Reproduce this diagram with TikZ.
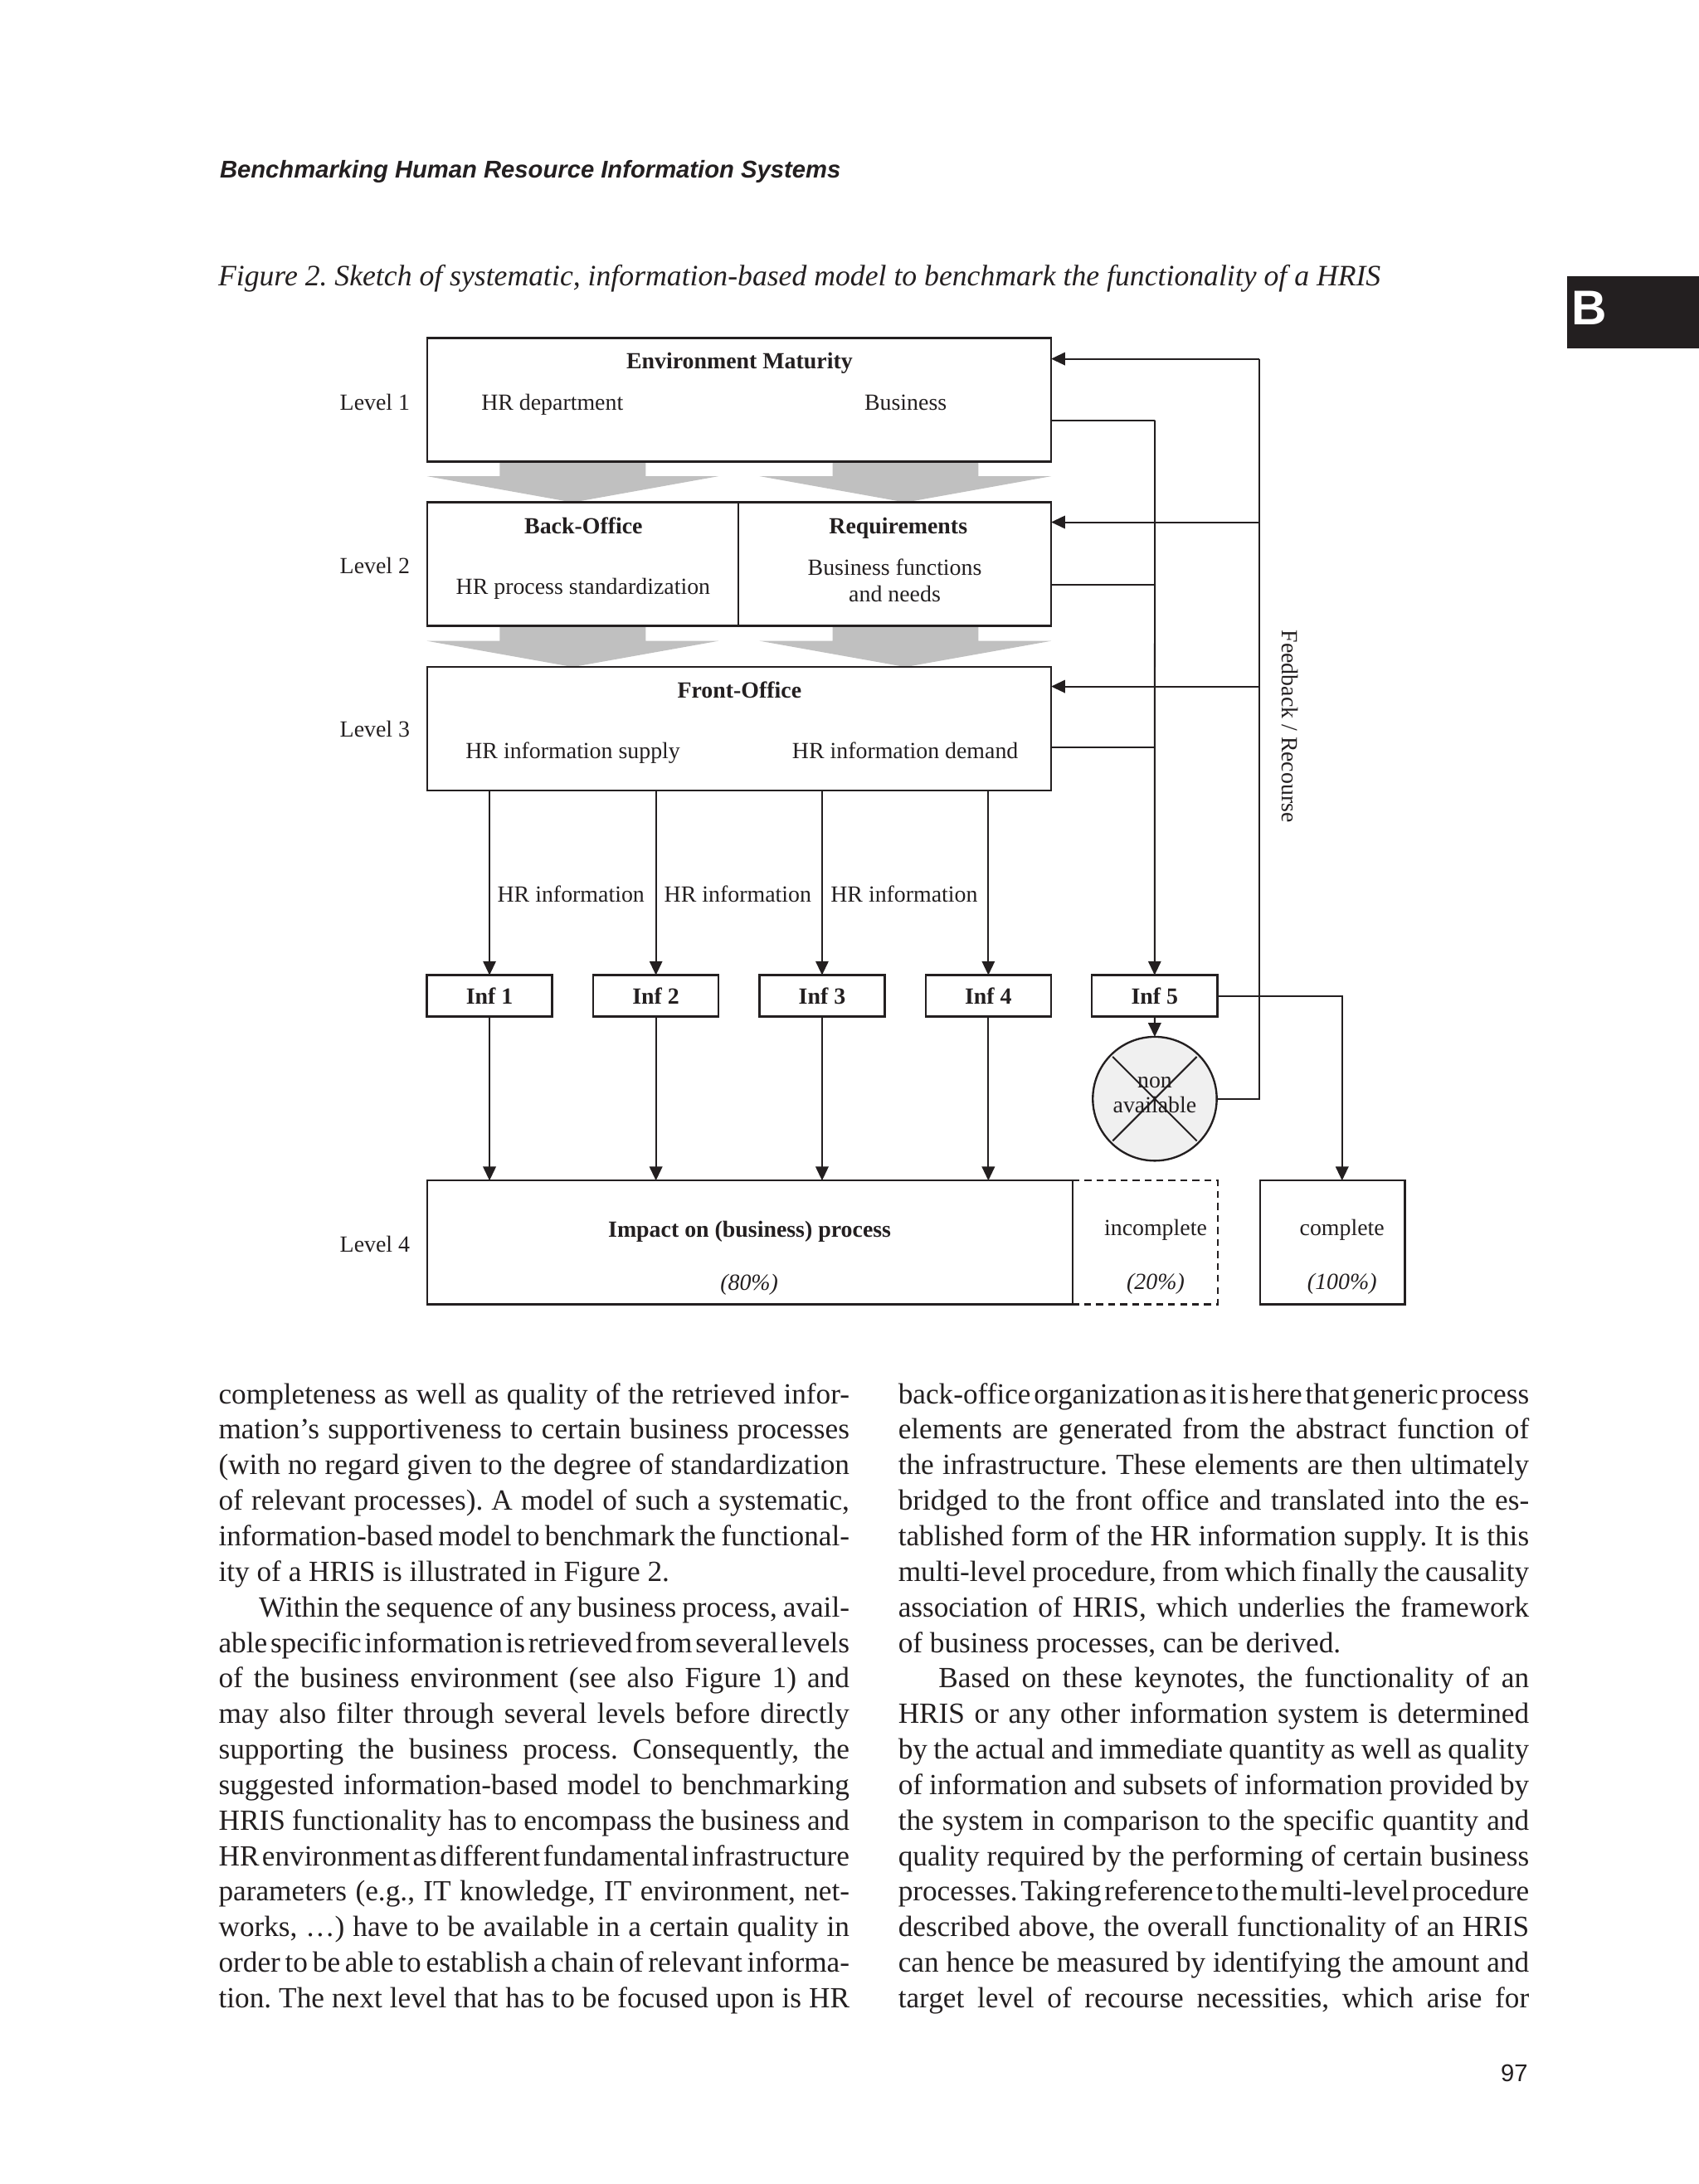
\documentclass[tikz,border=0pt]{standalone}
\usepackage{fontspec}
\setmainfont{Liberation Serif}
\newfontfamily\arialfont{Liberation Sans}
\usetikzlibrary{arrows.meta,calc}

\definecolor{ink}{RGB}{35,31,32}
\definecolor{arrowgrey}{RGB}{192,192,192}
\definecolor{nafill}{RGB}{240,240,240}

% one justified line of the two text columns
\newcommand{\colline}[1]{\hbox to 226.5pt{#1}}
\newcommand{\lastline}[1]{\hbox{#1}}

\begin{document}
\frenchspacing
\begin{tikzpicture}[x=0.5pt,y=-0.5pt,
    every node/.style={inner sep=0pt, outer sep=0pt, text=ink},
    box/.style={draw=ink, line width=0.7pt, minimum height=44.4pt},
    infbox/.style={draw=ink, line width=0.7pt, minimum width=45pt, minimum height=14.9pt,
        font=\fontsize{8.3}{9.5}\selectfont\bfseries},
    lab/.style={anchor=base, font=\fontsize{8.3}{9.5}\selectfont},
    title/.style={anchor=base, font=\fontsize{8.3}{9.5}\selectfont\bfseries},
    pct/.style={anchor=base, font=\fontsize{8.3}{9.5}\selectfont\itshape},
    conn/.style={draw=ink, line width=0.6pt},
    arr/.style={conn, -{Triangle[length=5pt,width=4.6pt]}}]

    \useasboundingbox (0,0) rectangle (1220,1568.5);

    % page furniture
    \node[anchor=base west, font=\arialfont\bfseries\itshape\fontsize{8.7}{10}\selectfont] (runhead) at (157.9,127.5) {Benchmarking Human Resource Information Systems};
    \node[anchor=base west, font=\fontsize{10.63}{12}\selectfont\itshape] (caption) at (156.7,205.5) {Figure 2. Sketch of systematic, information-based model to benchmark the functionality of a HRIS};
    \fill[ink] (1125.4,198.6) rectangle (1220,250.2);
    \node[anchor=base west, text=white, font=\arialfont\bfseries\fontsize{17.5}{18}\selectfont] (tabletter) at (1128.3,233) {B};
    \node[anchor=base east, font=\arialfont\fontsize{8.7}{10}\selectfont] (pagenum) at (1097,1495) {97};

    % grey block arrows between the levels
    \foreach \cx/\ytop/\ybase/\ytip in {411.3/331.6/342/360.8, 650.2/331.6/342/360.8, 411.3/449.4/460.3/479, 650.2/449.4/460.3/479}
        \fill[arrowgrey] ({\cx-52.4},\ytop) -- ({\cx+52.4},\ytop) -- ({\cx+52.4},\ybase) -- ({\cx+104.7},\ybase)
            -- (\cx,\ytip) -- ({\cx-104.7},\ybase) -- ({\cx-52.4},\ybase) -- cycle;

    % level 1
    \node[box, minimum width=224.1pt] (envbox) at (530.7,287.1) {};
    \node[title] (envtitle) at (531,265) {Environment Maturity};
    \node[lab] (hrdept) at (396.6,294.3) {HR department};
    \node[lab] (business) at (650.3,294.3) {Business};
    \node[lab] (lev1) at (269.2,294.3) {Level 1};

    % level 2
    \node[box, minimum width=111.85pt] (backbox) at (418.45,405.1) {};
    \node[box, minimum width=112.25pt] (reqbox) at (642.55,405.1) {};
    \node[title] (backtitle) at (419,383.2) {Back-Office};
    \node[title] (reqtitle) at (645,383.2) {Requirements};
    \node[lab] (standard) at (418.7,427) {HR process standardization};
    \node[anchor=center, align=center, font=\fontsize{8.3}{9.5}\selectfont] (bizfunc) at (642.5,417) {Business functions\\and needs};
    \node[lab] (lev2) at (269.2,412) {Level 2};

    % level 3
    \node[box, minimum width=224.1pt] (frontbox) at (530.7,523.4) {};
    \node[title] (fronttitle) at (531,501) {Front-Office};
    \node[lab] (supply) at (411.4,545) {HR information supply};
    \node[lab] (demand) at (650,545) {HR information demand};
    \node[lab] (lev3) at (269.2,529.5) {Level 3};

    % information items
    \foreach \i/\x in {1/351.5, 2/471, 3/590.3, 4/709.7, 5/829.1}
        \node[infbox] (inf\i) at (\x,715.2) {Inf \i};
    \foreach \i/\x in {1/357.2, 2/477, 3/596.5}
        \node[lab, anchor=base west] (hrinfo\i) at (\x,647.8) {HR information};

    \node[circle, draw=ink, fill=nafill, line width=0.7pt, minimum size=44.5pt] (nonavail) at (829.2,789.1) {};
    \draw[conn] ($(nonavail.center)!0.96!(nonavail.135)$) -- ($(nonavail.center)!0.96!(nonavail.-45)$);
    \draw[conn] ($(nonavail.center)!0.96!(nonavail.45)$) -- ($(nonavail.center)!0.96!(nonavail.-135)$);
    \node[align=center, font=\fontsize{8.3}{8.8}\selectfont] (natext) at (829.2,786.5) {non\\available};

    % level 4
    \node[box, minimum width=231.65pt] (impact) at (538.55,892.25) {};
    \node[minimum width=52.1pt, minimum height=44.4pt] (incompl) at (822.3,892.25) {};
    \draw[ink, line width=0.7pt, dash pattern=on 2.5pt off 1.8pt] (incompl.north west) -- (incompl.north east) -- (incompl.south east) -- (incompl.south west);
    \node[box, minimum width=52.05pt] (complbox) at (956.75,892.25) {};
    \node[title] (impacttitle) at (538.3,888.6) {Impact on (business) process};
    \node[pct] (pct80) at (538,926.4) {(80\%)};
    \node[lab] (incompltext) at (829.8,887) {incomplete};
    \node[pct] (pct20) at (829.8,926) {(20\%)};
    \node[lab] (compltext) at (963.7,887) {complete};
    \node[pct] (pct100) at (963.7,926) {(100\%)};
    \node[lab] (lev4) at (269.2,899) {Level 4};

    % information flow
    \foreach \i in {1,...,4} {
        \draw[arr] (frontbox.south -| inf\i.north) -- (inf\i.north);
        \draw[arr] (inf\i.south) -- (inf\i.south |- impact.north);
    }
    \coordinate (envtap) at (829.3,301.8);
    \coordinate (reqtap) at (829.3,420);
    \coordinate (fronttap) at (829.3,537);
    \draw[conn] (envbox.east |- envtap) -- (envtap);
    \draw[conn] (reqbox.east |- reqtap) -- (reqtap);
    \draw[conn] (frontbox.east |- fronttap) -- (fronttap);
    \draw[arr] (envtap) -- (inf5.north);
    \draw[arr] (inf5.south) -- (nonavail.north);
    \coordinate (compltap) at (963.7,715.2);
    \draw[arr] (inf5.east) -- (compltap) -- (compltap |- complbox.north);

    % feedback / recourse
    \coordinate (fbtop) at (904.1,257.7);
    \coordinate (fbreq) at (904.1,375);
    \coordinate (fbfront) at (904.1,493);
    \draw[conn] (nonavail.east) -- (nonavail.east -| fbtop) -- (fbtop);
    \draw[arr] (fbtop) -- (fbtop -| envbox.east);
    \draw[arr] (fbreq) -- (fbreq -| reqbox.east);
    \draw[arr] (fbfront) -- (fbfront -| frontbox.east);
    \node[font=\fontsize{8.3}{9.5}\selectfont, rotate=-90] (fbtext) at (926.3,521.6) {Feedback / Recourse};

    % body text
    \node[anchor=base west] (leftcol) at (157,1008) {\vtop{\fontsize{10.5}{12.76}\selectfont
        \spaceskip=0.25em plus 0.3em minus 0.2em
        \colline{completeness as well as quality of the retrieved infor-}
        \colline{mation’s supportiveness to certain business processes}
        \colline{(with no regard given to the degree of standardization}
        \colline{of relevant processes). A model of such a systematic,}
        \colline{information-based model to benchmark the functional-}
        \lastline{ity of a HRIS is illustrated in Figure 2.}
        \colline{\hskip14.5pt Within the sequence of any business process, avail-}
        \colline{able specific information is retrieved from several levels}
        \colline{of the business environment (see also Figure 1) and}
        \colline{may also filter through several levels before directly}
        \colline{supporting the business process. Consequently, the}
        \colline{suggested information-based model to benchmarking}
        \colline{HRIS functionality has to encompass the business and}
        \colline{HR environment as different fundamental infrastructure}
        \colline{parameters (e.g., IT knowledge, IT environment, net-}
        \colline{works, …) have to be available in a certain quality in}
        \colline{order to be able to establish a chain of relevant informa-}
        \colline{tion. The next level that has to be focused upon is HR}}};
    \node[anchor=base west] (rightcol) at (645,1008) {\vtop{\fontsize{10.5}{12.76}\selectfont
        \spaceskip=0.25em plus 0.3em minus 0.2em
        \colline{back-office organization as it is here that generic process}
        \colline{elements are generated from the abstract function of}
        \colline{the infrastructure. These elements are then ultimately}
        \colline{bridged to the front office and translated into the es-}
        \colline{tablished form of the HR information supply. It is this}
        \colline{multi-level procedure, from which finally the causality}
        \colline{association of HRIS, which underlies the framework}
        \lastline{of business processes, can be derived.}
        \colline{\hskip14.5pt Based on these keynotes, the functionality of an}
        \colline{HRIS or any other information system is determined}
        \colline{by the actual and immediate quantity as well as quality}
        \colline{of information and subsets of information provided by}
        \colline{the system in comparison to the specific quantity and}
        \colline{quality required by the performing of certain business}
        \colline{processes. Taking reference to the multi-level procedure}
        \colline{described above, the overall functionality of an HRIS}
        \colline{can hence be measured by identifying the amount and}
        \colline{target level of recourse necessities, which arise for}}};
\end{tikzpicture}
\end{document}
